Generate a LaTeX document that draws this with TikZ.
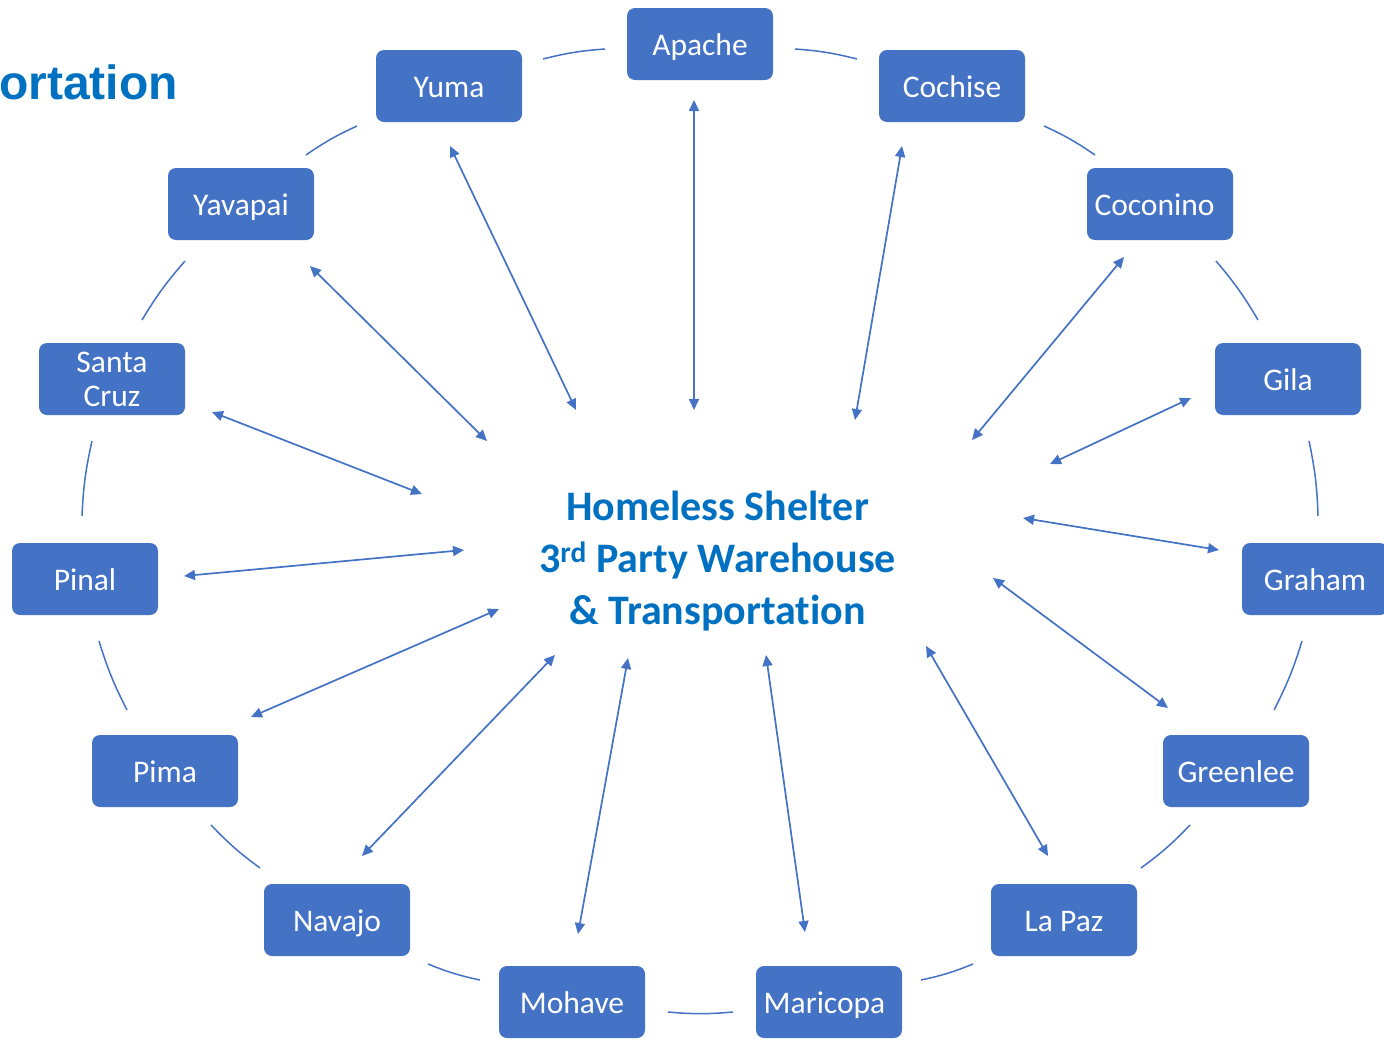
\documentclass[tikz,border=0pt]{standalone}
\usepackage{fontspec}
\setmainfont{Carlito}[Ligatures=NoCommon]
\newfontfamily\titlefont{Liberation Sans}
\usetikzlibrary{arrows.meta}
\definecolor{boxblue}{HTML}{4472C4}
\definecolor{textblue}{HTML}{0070C0}
\begin{document}
\begin{tikzpicture}[x=1pt,y=-1pt,
  box/.style={fill=boxblue,rounded corners=8pt,minimum width=146pt,minimum height=72pt,
    inner sep=0pt,text=white,font=\fontsize{31.5}{34}\selectfont,align=center},
  boxt/.style={box,text height=24pt,text depth=2pt},
  link/.style={draw=boxblue,line width=1.7pt,{Triangle[length=11pt,width=10pt]}-{Triangle[length=11pt,width=10pt]}},
  gap/.style={draw=boxblue,line width=1.5pt},
  ctext/.style={text=textblue,font=\fontsize{42}{52}\selectfont\bfseries,anchor=base,inner sep=0pt}]
\useasboundingbox (0,0) rectangle (1384,1039);

% title fragment
\node[anchor=base west,inner sep=0pt,text=textblue,font=\titlefont\fontsize{48}{50}\selectfont\bfseries] (title) at (-1,99) {ortation};

% centre text
\node[ctext] (c1) at (717.5,520) {Homeless Shelter};
\node[ctext] (c2) at (717.5,572) {3\textsuperscript{rd} Party Warehouse};
\node[ctext] (c3) at (717.5,624) {\& Transportation};

% boxes
\node[boxt] (apache) at (700,44) {Apache};
\node[boxt] (yuma) at (449,86) {Yuma};
\node[boxt] (cochise) at (952,86) {Cochise};
\node[boxt] (yavapai) at (241,204) {Yavapai};
\node[boxt] (coconino) at (1160,204) {Coconino\hspace*{11pt}};
\node[box] (santacruz) at (112,379) {Santa\\Cruz};
\node[boxt] (gila) at (1288,379) {Gila};
\node[boxt] (pinal) at (85,579) {Pinal};
\node[boxt] (graham) at (1315,579) {Graham};
\node[boxt] (pima) at (165,771) {Pima};
\node[boxt] (greenlee) at (1236,771) {Greenlee};
\node[boxt] (navajo) at (337,920) {Navajo};
\node[boxt] (lapaz) at (1064,920) {La Paz};
\node[boxt] (mohave) at (572,1002) {Mohave};
\node[boxt] (maricopa) at (829,1002) {Maricopa\hspace*{9pt}};

% arrow end points
\coordinate (aA) at (694,100);   \coordinate (bA) at (694,410);
\coordinate (aY) at (450,146);   \coordinate (bY) at (576,410);
\coordinate (aCh) at (902,146);  \coordinate (bCh) at (855,420);
\coordinate (aYv) at (310,266);  \coordinate (bYv) at (487,441);
\coordinate (aCo) at (1124,257); \coordinate (bCo) at (972,440);
\coordinate (aS) at (212,412);   \coordinate (bS) at (422,494);
\coordinate (aG) at (1191,398);  \coordinate (bG) at (1050,464);
\coordinate (aP) at (184,576);   \coordinate (bP) at (464,550);
\coordinate (aGr) at (1219,550); \coordinate (bGr) at (1023,518);
\coordinate (aPi) at (251,717);  \coordinate (bPi) at (499,609);
\coordinate (aGl) at (1168,708); \coordinate (bGl) at (993,578);
\coordinate (aN) at (362,856);   \coordinate (bN) at (555,655);
\coordinate (aL) at (1048,856);  \coordinate (bL) at (926,646);
\coordinate (aM) at (578,934);   \coordinate (bM) at (628,658);
\coordinate (aMa) at (805,932);  \coordinate (bMa) at (766,655);

\foreach \e in {A,Y,Ch,Yv,Co,S,G,P,Gr,Pi,Gl,N,L,M,Ma}
  \draw[link] (a\e) -- (b\e);

% ring segments between boxes (clockwise)
\coordinate (g1a) at (543,59);   \coordinate (g1b) at (605,49);
\coordinate (g2a) at (795,49);   \coordinate (g2b) at (857,59);
\coordinate (g3a) at (1044,126); \coordinate (g3b) at (1095,155);
\coordinate (g4a) at (1216,261); \coordinate (g4b) at (1258,320);
\coordinate (g5a) at (1309,441); \coordinate (g5b) at (1318,516);
\coordinate (g6a) at (1302,641); \coordinate (g6b) at (1274,710);
\coordinate (g7a) at (1190,825); \coordinate (g7b) at (1141,868);
\coordinate (g8a) at (973,964);  \coordinate (g8b) at (921,980);
\coordinate (g9a) at (733,1012); \coordinate (g9b) at (668,1012);
\coordinate (g10a) at (480,980); \coordinate (g10b) at (428,964);
\coordinate (g11a) at (260,868); \coordinate (g11b) at (211,825);
\coordinate (g12a) at (127,710); \coordinate (g12b) at (99,641);
\coordinate (g13a) at (82,516);  \coordinate (g13b) at (92,441);
\coordinate (g14a) at (142,320); \coordinate (g14b) at (185,261);
\coordinate (g15a) at (306,155); \coordinate (g15b) at (357,126);

\foreach \i in {1,...,15}
  \draw[gap] (g\i a) to[bend left=5] (g\i b);
\end{tikzpicture}
\end{document}
